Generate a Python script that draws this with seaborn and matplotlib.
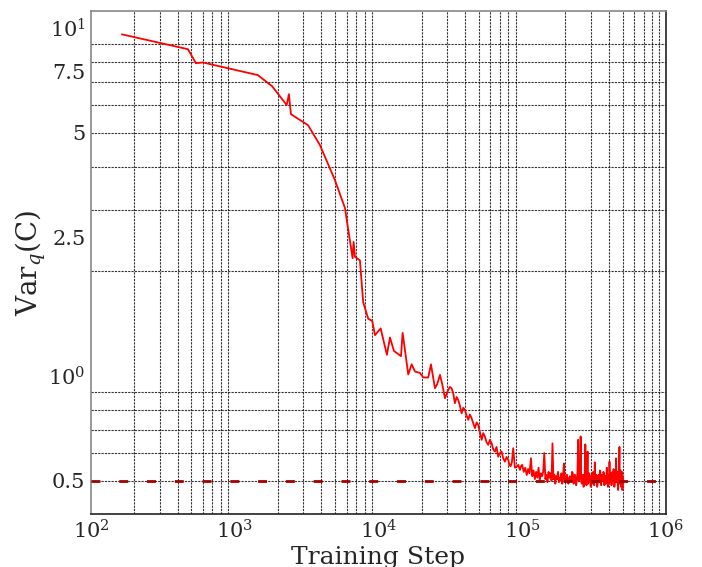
import matplotlib
matplotlib.use('Agg')
import matplotlib.pyplot as plt
import seaborn as sns
import pandas as pd
from matplotlib.ticker import FixedLocator, FixedFormatter, LogLocator, NullFormatter

# training curve (step, Var_q(C))
steps = [164, 473, 537, 602, 675, 1447, 1820, 2300, 2383, 2460, 3238, 3917,
         4977, 5848, 6610, 6715, 6866, 7430, 7830, 8490, 9050, 9460, 10360,
         11450, 12030, 12820, 14350, 14730, 16120, 17020, 17950, 19450, 20510,
         22200, 23200, 24720, 25700, 26790, 27900, 29020, 30590, 31400, 32280,
         33130, 34040, 35000, 35900, 36900, 37890, 38900, 39960, 41000, 42150,
         43300, 44460, 45700, 46920, 48200, 49460, 50800, 52240, 53600, 55060,
         56500, 58050, 59600, 61270, 62900, 64600, 66300, 68120, 70000, 71880,
         73800, 75800, 77900, 79930, 81500, 83000, 84800, 86630, 89000, 91470,
         94000, 96440, 98000,
         100000, 102500, 105000, 107500, 110000, 112500, 115000, 117500,
         120000, 122500, 125000, 127500, 130000, 132500, 135000, 137500,
         140000, 142500, 145000, 147500, 150000, 152500, 155000, 157500,
         160000, 162500, 165000, 167500, 170000, 172500, 175000, 177500,
         180000, 182500, 185000, 187500, 190000, 192500, 195000, 197500,
         200000, 202500, 205000, 207500, 210000, 212500, 215000, 217500,
         220000, 222500, 225000, 227500, 230000, 232500, 235000, 237500,
         240000, 242500, 245000, 247500, 250000, 252500, 255000, 257500,
         260000, 262500, 265000, 267500, 270000, 272500, 275000, 277500,
         280000, 282500, 285000, 287500, 290000, 292500, 295000, 297500,
         300000, 302500, 305000, 307500, 310000, 312500, 315000, 317500,
         320000, 322500, 325000, 327500, 330000, 332500, 335000, 337500,
         340000, 342500, 345000, 347500, 350000, 352500, 355000, 357500,
         360000, 362500, 365000, 367500, 370000, 372500, 375000, 377500,
         380000, 382500, 385000, 387500, 390000, 392500, 395000, 397500,
         400000, 402500, 405000, 407500, 410000, 412500, 415000, 417500,
         420000, 422500, 425000, 427500, 430000, 432500, 435000, 437500,
         440000, 442500, 445000, 447500, 450000, 452500, 455000, 457500,
         460000, 462500, 465000, 467500, 470000, 472500, 475000, 477500,
         480000, 482500, 485000, 487500, 490000, 492500, 495000, 497500,
         500000, 502500, 505000]
var_q = [9.6, 8.7, 7.93, 7.97, 7.88, 7.33, 6.81, 6.01, 6.46, 5.66, 5.26, 4.61,
         3.66, 3.04, 2.18, 2.43, 2.20, 2.15, 1.63, 1.46, 1.44, 1.31, 1.37,
         1.15, 1.29, 1.18, 1.14, 1.33, 1.01, 1.08, 1.03, 1.02, 0.99,
         0.99, 1.08, 0.922, 0.95, 1.007, 0.94, 0.863, 0.912, 0.93, 0.922,
         0.892, 0.835, 0.87, 0.853, 0.82, 0.781, 0.81, 0.799, 0.77, 0.748,
         0.775, 0.756, 0.73, 0.708, 0.735, 0.723, 0.69, 0.655, 0.685, 0.669,
         0.645, 0.634, 0.655, 0.641, 0.615, 0.606, 0.625, 0.586, 0.60, 0.606,
         0.58, 0.567, 0.585, 0.574, 0.555, 0.55, 0.565, 0.62, 0.545, 0.548,
         0.555, 0.537, 0.55,
         0.555, 0.53, 0.545, 0.519, 0.54, 0.525, 0.58, 0.515,
         0.535, 0.505, 0.53, 0.51, 0.545, 0.50, 0.525, 0.515,
         0.53, 0.60, 0.505, 0.52, 0.495, 0.53, 0.51, 0.525,
         0.50, 0.64, 0.505, 0.52, 0.49, 0.515, 0.505, 0.53,
         0.495, 0.51, 0.50, 0.525, 0.49, 0.515, 0.56, 0.50,
         0.50, 0.515, 0.52, 0.495, 0.49, 0.51, 0.515, 0.50,
         0.50, 0.53, 0.525, 0.49, 0.495, 0.52, 0.51, 0.485,
         0.50, 0.53, 0.655, 0.50, 0.505, 0.52, 0.67, 0.495,
         0.49, 0.515, 0.52, 0.48, 0.50, 0.525, 0.636, 0.50,
         0.485, 0.52, 0.606, 0.49, 0.50, 0.525, 0.515, 0.495,
         0.48, 0.51, 0.52, 0.49, 0.50, 0.53, 0.51, 0.485,
         0.564, 0.505, 0.495, 0.52, 0.515, 0.48, 0.49, 0.515,
         0.52, 0.495, 0.50, 0.535, 0.53, 0.49, 0.485, 0.52,
         0.51, 0.50, 0.50, 0.53, 0.525, 0.485, 0.49, 0.515,
         0.515, 0.49, 0.50, 0.545, 0.52, 0.495, 0.48, 0.52,
         0.51, 0.49, 0.567, 0.505, 0.495, 0.525, 0.52, 0.485,
         0.49, 0.515, 0.53, 0.50, 0.50, 0.54, 0.515, 0.48,
         0.485, 0.52, 0.525, 0.495, 0.58, 0.505, 0.495, 0.53,
         0.52, 0.49, 0.47, 0.515, 0.51, 0.55, 0.625, 0.49,
         0.49, 0.535, 0.525, 0.48, 0.48, 0.52, 0.53, 0.47,
         0.475, 0.515, 0.50]

baseline = 0.5
x_tick_values = [1e2, 1e3, 1e4, 1e5, 1e6]
x_tick_labels = ['$10^2$', '$10^3$', '$10^4$', '$10^5$', '$10^6$']
y_tick_values = [0.5, 1.0, 2.5, 5.0, 7.5, 10.0]
y_tick_labels = ['0.5', '$10^0$', '2.5', '5', '7.5', '$10^1$']

df = pd.DataFrame({'step': steps, 'var': var_q})

sns.set_style('white')
plt.rcParams['font.family'] = ['DejaVu Serif']
plt.rcParams['mathtext.fontset'] = 'dejavuserif'

fig = plt.figure(figsize=(7.02, 5.67), dpi=100)
ax = fig.add_axes([0.1296, 0.0935, 0.819, 0.887])

sns.lineplot(data=df, x='step', y='var', color='red', linewidth=1.3, ax=ax)
ax.axhline(baseline, color='#a00000', linewidth=2.0, dashes=(3.2, 6.8), zorder=3)

ax.set_xscale('log')
ax.set_yscale('log')
ax.set_xlim(1e2, 1e6)
ax.set_ylim(0.401, 11.2)

ax.xaxis.set_major_locator(FixedLocator(x_tick_values))
ax.xaxis.set_major_formatter(FixedFormatter(x_tick_labels))
ax.xaxis.set_minor_locator(LogLocator(base=10, subs=range(2, 10), numticks=20))
ax.xaxis.set_minor_formatter(NullFormatter())
ax.yaxis.set_major_locator(FixedLocator(y_tick_values))
ax.yaxis.set_major_formatter(FixedFormatter(y_tick_labels))
ax.yaxis.set_minor_locator(LogLocator(base=10, subs=range(2, 10), numticks=20))
ax.yaxis.set_minor_formatter(NullFormatter())
ax.yaxis.remove_overlapping_locs = False

# only the minor grid shows in the reference
ax.grid(False, which='major')
ax.grid(True, which='minor', color='k', linestyle=(0, (2, 1)), linewidth=0.8, alpha=0.8)
ax.tick_params(which='both', length=0, labelsize=15, pad=4)

for side in ['left', 'top']:
    ax.spines[side].set_color('#888888')
for side in ['right', 'bottom']:
    ax.spines[side].set_color('#222222')
for sp in ax.spines.values():
    sp.set_linewidth(1.2)

ax.set_xlabel('Training Step', fontsize=18, labelpad=2)
ax.set_ylabel('Var$_q$(C)', fontsize=20, labelpad=0)

fig.savefig('out.png', dpi=100)
